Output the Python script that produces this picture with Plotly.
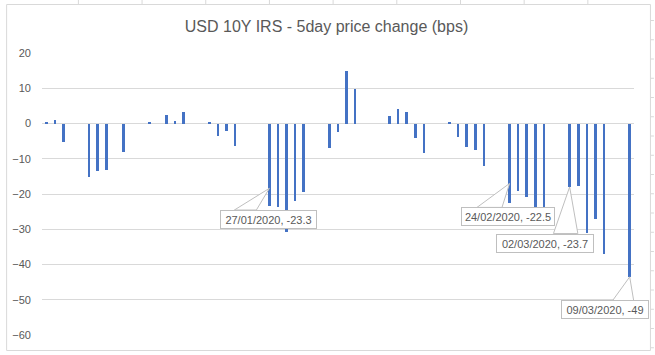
import plotly.graph_objects as go

# ---- data ----
dates = ["2020-01-01", "2020-01-02", "2020-01-03",
         "2020-01-06", "2020-01-07", "2020-01-08", "2020-01-10",
         "2020-01-13", "2020-01-15", "2020-01-16", "2020-01-17",
         "2020-01-20", "2020-01-21", "2020-01-22", "2020-01-23",
         "2020-01-27", "2020-01-28", "2020-01-29", "2020-01-30", "2020-01-31",
         "2020-02-03", "2020-02-04", "2020-02-05", "2020-02-06",
         "2020-02-10", "2020-02-11", "2020-02-12", "2020-02-13", "2020-02-14",
         "2020-02-17", "2020-02-18", "2020-02-19", "2020-02-20", "2020-02-21",
         "2020-02-24", "2020-02-25", "2020-02-26", "2020-02-27", "2020-02-28",
         "2020-03-02", "2020-03-03", "2020-03-04", "2020-03-05", "2020-03-06",
         "2020-03-09"]
changes = [0.4, 0.95, -5.2,
           -15.1, -13.4, -13.2, -8.0,
           0.3, 2.4, 0.7, 3.2,
           0.3, -3.5, -2.1, -6.4,
           -23.3, -23.6, -30.7, -21.9, -19.3,
           -6.9, -2.4, 14.9, 9.7,
           2.1, 4.1, 3.2, -4.1, -8.3,
           0.3, -3.8, -6.6, -7.5, -12.0,
           -22.5, -19.1, -20.8, -23.7, -23.7,
           -18.0, -17.7, -31.0, -27.2, -37.1,
           -43.5]
title_text = "USD 10Y IRS - 5day price change (bps)"
y_ticks = [-60, -50, -40, -30, -20, -10, 0, 10, 20]

# callout labels: (date, label text)
callout_dates = ["2020-01-27", "2020-02-24", "2020-03-02", "2020-03-09"]
callout_texts = ["27/01/2020, -23.3", "24/02/2020, -22.5",
                 "02/03/2020, -23.7", "09/03/2020, -49"]

# ---- styling / layout (pixels) ----
W, H = 655, 355
ML, MR, MT, MB = 40, 21, 53, 20
TXT = "#595959"
GRID = "#D9D9D9"
BOX = "#BFBFBF"
FONT = "Liberation Sans"
DAY_MS = 86400000

# callout geometry in pixels relative to bar end:
# (tip_up, base_left, base_right, base_y, box_dx, box_dy, box_w)
callout_geom = [
    (17.3, -35, -13, -4.4, -0.5, -13.9, 97),
    (19.4, -32.6, -7.6, -4.6, -1.4, -14.0, 94),
    (0.0, -16.2, 8.2, -46.6, -25.0, -56.1, 98),
    (0.0, -17.3, 4.0, -24.0, -25.0, -32.8, 88),
]

fig = go.Figure()
fig.add_trace(go.Bar(
    x=dates, y=changes,
    width=0.3 * DAY_MS,
    marker=dict(color="#4472C4", line=dict(width=0)),
    hoverinfo="x+y",
))

value_of = dict(zip(dates, changes))
shapes = []
annotations = []
for d, txt, g in zip(callout_dates, callout_texts, callout_geom):
    tip, bl, br, by, bdx, bdy, bw = g
    v = value_of[d]
    shapes.append(dict(
        type="path", xref="x", yref="y",
        xsizemode="pixel", ysizemode="pixel",
        xanchor=d, yanchor=v,
        path=f"M {bl} {by} L 0 {tip} L {br} {by} Z",
        line=dict(color=BOX, width=1), fillcolor="white", layer="above",
    ))
    annotations.append(dict(
        x=d, y=v, xref="x", yref="y", showarrow=False,
        xshift=bdx, yshift=bdy, text=txt,
        font=dict(family=FONT, size=11, color=TXT),
        bgcolor="white", bordercolor=BOX, borderwidth=1, borderpad=0,
        width=bw - 2, height=17, xanchor="center", yanchor="middle",
    ))

# chart border and faint spreadsheet cell lines peeking around it
pw = W - ML - MR
ph = H - MT - MB
def px_x(p):
    return (p - ML) / pw
def px_y(p):
    return (H - MB - p) / ph
shapes.append(dict(type="rect", xref="paper", yref="paper",
                   x0=px_x(4.5), x1=px_x(650.5), y0=px_y(350.5), y1=px_y(4.5),
                   line=dict(color=GRID, width=1), fillcolor="rgba(0,0,0,0)", layer="above"))
col_x = 76.5
while col_x < 650:
    shapes.append(dict(type="line", xref="paper", yref="paper",
                       x0=px_x(col_x), x1=px_x(col_x), y0=px_y(4), y1=px_y(0),
                       line=dict(color=GRID, width=1), layer="above"))
    col_x += 63.9
row_y = 20.5
while row_y < 350:
    shapes.append(dict(type="line", xref="paper", yref="paper",
                       x0=px_x(651), x1=px_x(654), y0=px_y(row_y), y1=px_y(row_y),
                       line=dict(color=GRID, width=1), layer="above"))
    row_y += 19.25

fig.update_layout(
    width=W, height=H,
    margin=dict(l=ML, r=MR, t=MT, b=MB, pad=0),
    paper_bgcolor="white", plot_bgcolor="white",
    showlegend=False,
    bargap=0,
    title=dict(text=title_text, x=0.4985, xanchor="center", xref="container",
               y=1 - 26.5 / H, yanchor="middle", yref="container",
               font=dict(family=FONT, size=16, color=TXT)),
    xaxis=dict(type="date", range=["2019-12-31 12:00", "2020-03-09 12:00"],
               showticklabels=False, showgrid=False, zeroline=False,
               showline=False, ticks=""),
    yaxis=dict(range=[-60, 20], tickvals=y_ticks,
               showgrid=True, gridcolor=GRID, gridwidth=1,
               zeroline=True, zerolinecolor=GRID, zerolinewidth=1,
               showline=False, ticks="", ticklabelstandoff=10,
               tickfont=dict(family=FONT, size=11, color=TXT)),
    shapes=shapes,
    annotations=annotations,
)

fig.write_html("out.html",
               config={"displayModeBar": False},
               post_script="document.body.style.margin='0px';"
                           "document.body.style.overflow='hidden';")
